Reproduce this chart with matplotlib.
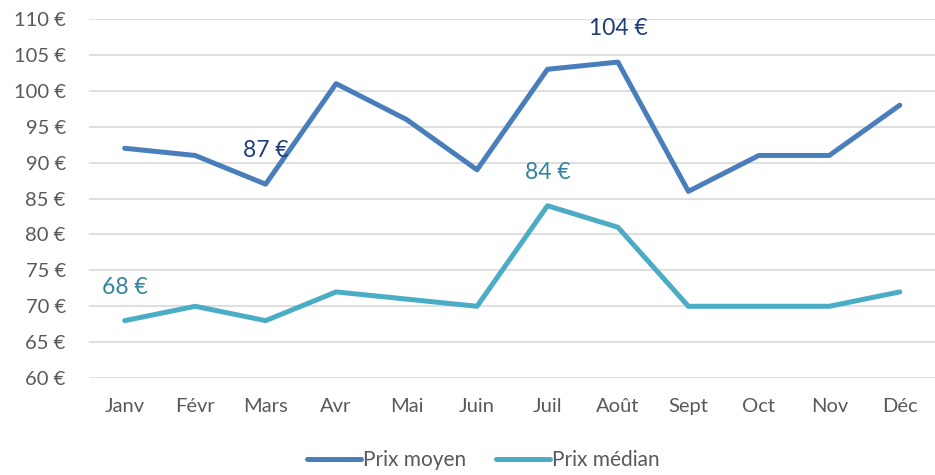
import matplotlib
matplotlib.use('Agg')
import matplotlib.pyplot as plt

plt.rcParams['font.family'] = ['Lato', 'DejaVu Sans']

months = ['Janv', 'Févr', 'Mars', 'Avr', 'Mai', 'Juin', 'Juil', 'Août', 'Sept', 'Oct', 'Nov', 'Déc']
prix_moyen = [92, 91, 87, 101, 96, 89, 103, 104, 86, 91, 91, 98]
prix_median = [68, 70, 68, 72, 71, 70, 84, 81, 70, 70, 70, 72]
yticks = list(range(60, 111, 5))

# labelled points: (series, index)
labels_moyen = [2, 7]
labels_median = [0, 6]

C_MOY = '#4a7ebb'
C_MED = '#4bacc6'

fig = plt.figure(figsize=(9.35, 4.75), dpi=100)
ax = fig.add_axes([0.0957, 0.204, 0.9043, 0.756])

x = range(len(months))
ax.plot(x, prix_moyen, color=C_MOY, lw=3.6, solid_joinstyle='round',
        solid_capstyle='round', label='Prix moyen', zorder=3)
ax.plot(x, prix_median, color=C_MED, lw=3.6, solid_joinstyle='round',
        solid_capstyle='round', label='Prix médian', zorder=3)

for i in labels_moyen:
    ax.annotate(f'{prix_moyen[i]} €', (i, prix_moyen[i]), xytext=(0, 24),
                textcoords='offset points', ha='center', va='center',
                fontsize=16.5, color='#1f3d7a', zorder=4)
for i in labels_median:
    ax.annotate(f'{prix_median[i]} €', (i, prix_median[i]), xytext=(0, 24),
                textcoords='offset points', ha='center', va='center',
                fontsize=16.5, color='#31859c', zorder=4)

ax.set_xlim(-0.5, len(months) - 0.5)
ax.set_ylim(60, 110)
ax.set_xticks(list(x))
ax.set_xticklabels(months)
ax.set_yticks(yticks)
ax.set_yticklabels([f'{v} €' for v in yticks])
ax.tick_params(length=0, labelsize=14.5, labelcolor='#595959')
ax.tick_params(axis='x', pad=14)
ax.tick_params(axis='y', pad=17)
ax.grid(axis='y', color='#d9d9d9', lw=1.2)
ax.set_axisbelow(True)
for s in ax.spines.values():
    s.set_visible(False)

fig.legend(loc='lower center', ncol=2, frameon=False, fontsize=15,
           handlelength=2.6, handletextpad=0.1, columnspacing=1.4,
           bbox_to_anchor=(0.517, -0.03), labelcolor='#595959')

fig.savefig('out.png', dpi=100)
